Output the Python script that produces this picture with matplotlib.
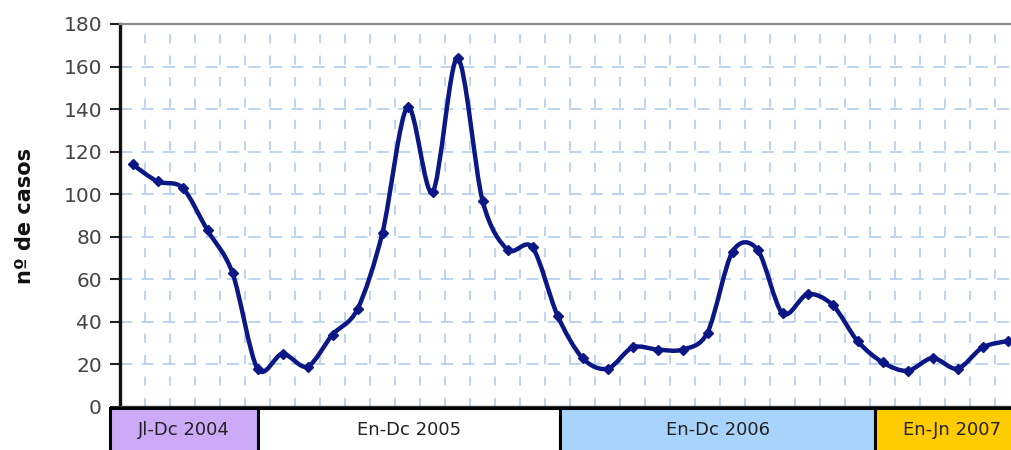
import numpy as np
import matplotlib
matplotlib.use('Agg')
import matplotlib.pyplot as plt
from matplotlib.path import Path
from matplotlib.patches import PathPatch, Rectangle
from matplotlib.transforms import blended_transform_factory

# monthly cases, Jul 2004 .. Jun 2007
casos = [114, 106, 103, 83, 63, 18, 25, 19, 34, 46, 82, 141,
         101, 164, 97, 74, 75, 43, 23, 18, 28, 27, 27, 35,
         73, 74, 44, 53, 48, 31, 21, 17, 23, 18, 28, 31]

periodos = ['Jl-Dc 2004', 'En-Dc 2005', 'En-Dc 2006', 'En-Jn 2007']
bordes = [-0.9, 5.0, 17.1, 29.7, 36.5]
colores = ['#CCAAF8', '#FFFFFF', '#A8D4FC', '#FFCC00']

yticks = list(range(0, 181, 20))

navy = '#0B1785'
grid_c = '#A9C9EE'

fig = plt.figure(figsize=(10.11, 4.5), dpi=100)
ax = fig.add_axes([120/1011, 43/450, 900/1011, 383/450])

x = np.arange(len(casos))
y = np.array(casos, dtype=float)

# smoothed line (catmull-rom -> bezier), like excel's smoothed line
verts = [(x[0], y[0])]
codes = [Path.MOVETO]
for i in range(len(x) - 1):
    p0 = np.array([x[max(i-1, 0)], y[max(i-1, 0)]])
    p1 = np.array([x[i], y[i]])
    p2 = np.array([x[i+1], y[i+1]])
    p3 = np.array([x[min(i+2, len(x)-1)], y[min(i+2, len(x)-1)]])
    c1 = p1 + (p2 - p0) / 6.5
    c2 = p2 - (p3 - p1) / 6.5
    verts += [tuple(c1), tuple(c2), tuple(p2)]
    codes += [Path.CURVE4] * 3
ax.add_patch(PathPatch(Path(verts, codes), fill=False, edgecolor=navy,
                       lw=3.2, capstyle='round', joinstyle='round', zorder=4))
ax.plot(x, y, 'D', color=navy, ms=5, zorder=5)

ax.set_xlim(-0.5, 35.5)
ax.set_ylim(0, 180)
ax.set_yticks(yticks)
ax.set_xticks([])
ax.tick_params(axis='x', which='both', length=0, labelbottom=False)
ax.tick_params(axis='y', length=7, width=1.5, color='#222222', pad=6,
               labelsize=14.5, labelcolor='#444444')

for v in yticks[1:-1]:
    ax.axhline(v, color=grid_c, lw=1.1, dashes=(8, 6), zorder=1)
for v in np.arange(0.5, 35, 1):
    ax.axvline(v, color=grid_c, lw=1.1, dashes=(6, 8), zorder=1)

ax.spines['left'].set_color('#111111')
ax.spines['left'].set_linewidth(2.4)
ax.spines['top'].set_color('#8a8a8a')
ax.spines['top'].set_linewidth(1.6)
ax.spines['bottom'].set_color('#333333')
ax.spines['bottom'].set_linewidth(2.4)
ax.spines['right'].set_visible(False)

fig.text(25/1011, 0.52, 'nº de casos', rotation=90, ha='center', va='center',
         fontsize=15, fontweight='bold', color='#111111')

trans = blended_transform_factory(ax.transData, ax.transAxes)
for i, lab in enumerate(periodos):
    x0, x1 = bordes[i], bordes[i+1]
    ax.add_patch(Rectangle((x0, -0.2), x1 - x0, 0.2 - 0.003, transform=trans,
                           facecolor=colores[i], edgecolor='#000000', lw=2.2,
                           clip_on=False, zorder=6))
    xc = (x0 + min(x1, 35.5 + 0.4)) / 2
    ax.text(xc, -0.06, lab, transform=trans, ha='center', va='center',
            fontsize=13, color='#222222', zorder=7, clip_on=False)

fig.savefig('out.png', dpi=100)
